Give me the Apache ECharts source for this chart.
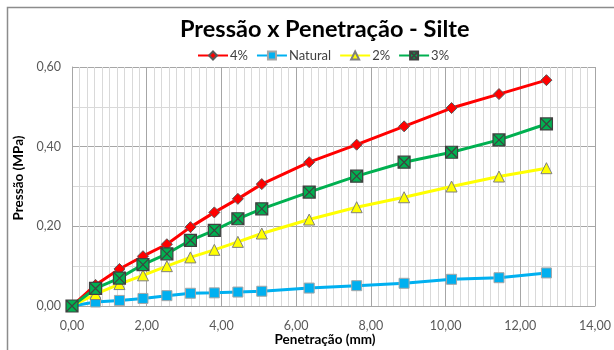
<!DOCTYPE html>
<html>
<head>
<meta charset="utf-8">
<script src="https://cdn.jsdelivr.net/npm/echarts@6/dist/echarts.min.js"></script>
<style>
html,body{margin:0;padding:0;background:#fff;}
#chart{width:614px;height:350px;}
</style>
</head>
<body>
<div id="chart"></div>
<script>
const penetration = [0, 0.63, 1.27, 1.90, 2.54, 3.17, 3.81, 4.44, 5.08, 6.35, 7.62, 8.89, 10.16, 11.43, 12.70];
const s4 = [0, 0.053, 0.093, 0.125, 0.155, 0.198, 0.235, 0.269, 0.306, 0.361, 0.405, 0.451, 0.497, 0.532, 0.567];
const sNatural = [0, 0.010, 0.014, 0.019, 0.026, 0.032, 0.033, 0.035, 0.037, 0.045, 0.051, 0.057, 0.067, 0.071, 0.083];
const s2 = [0, 0.030, 0.055, 0.077, 0.100, 0.122, 0.141, 0.161, 0.182, 0.217, 0.248, 0.273, 0.300, 0.325, 0.346];
const s3 = [0, 0.044, 0.070, 0.104, 0.131, 0.165, 0.190, 0.219, 0.244, 0.286, 0.326, 0.361, 0.386, 0.417, 0.457];
const seriesNames = ['4%', 'Natural', '2%', '3%'];
const titleText = 'Pressão x Penetração - Silte';
const xTitle = 'Penetração (mm)';
const yTitle = 'Pressão (MPa)';

const FONT = 'Lato';
const pairs = arr => penetration.map((x, i) => [x, arr[i]]);
const fmt = v => v.toFixed(2).replace('.', ',');

const chart = echarts.init(document.getElementById('chart'), null, {renderer: 'canvas'});
chart.setOption({
  animation: false,
  backgroundColor: '#ffffff',
  title: {
    text: titleText,
    left: 175,
    top: 12,
    textStyle: {fontFamily: FONT, fontWeight: 'bold', fontSize: 23.5, color: '#000000'}
  },
  legend: {
    left: 192,
    top: 44,
    itemWidth: 30,
    itemHeight: 10,
    itemGap: 8,
    data: seriesNames,
    textStyle: {fontFamily: FONT, fontSize: 13, color: '#404040', padding: [0, 0, 0, -3]}
  },
  grid: {left: 72, top: 67, width: 523, height: 239, containLabel: false, outerBoundsMode: 'none'},
  xAxis: {
    type: 'value', min: 0, max: 14, interval: 2,
    axisLine: {show: true, lineStyle: {color: '#a6a6a6', width: 1}},
    axisTick: {show: false},
    axisLabel: {formatter: fmt, fontFamily: FONT, fontSize: 12.5, color: '#595959', margin: 13},
    splitLine: {show: true, lineStyle: {color: '#a6a6a6', width: 1}},
    minorTick: {show: false, splitNumber: 10},
    minorSplitLine: {show: true, lineStyle: {color: '#d9d9d9', width: 1}}
  },
  yAxis: {
    type: 'value', min: 0, max: 0.6, interval: 0.2,
    axisLine: {show: true, lineStyle: {color: '#a6a6a6', width: 1}},
    axisTick: {show: false},
    axisLabel: {formatter: fmt, fontFamily: FONT, fontSize: 12.5, color: '#595959', margin: 11},
    splitLine: {show: true, lineStyle: {color: '#a6a6a6', width: 1}},
    minorTick: {show: false, splitNumber: 2},
    minorSplitLine: {show: true, lineStyle: {color: '#d9d9d9', width: 1}}
  },
  graphic: [
    {type: 'rect', shape: {x: 7.5, y: 7.5, width: 800, height: 500}, style: {fill: 'none', stroke: '#8c8c8c', lineWidth: 1.5}, silent: true},
    {type: 'text', x: 325, y: 340, style: {text: xTitle, font: 'bold 13.5px Lato', fill: '#000', align: 'center', verticalAlign: 'middle'}},
    {type: 'text', x: 18.5, y: 178, rotation: Math.PI / 2, style: {text: yTitle, font: 'bold 13.5px Lato', fill: '#000', align: 'center', verticalAlign: 'middle'}}
  ],
  series: [
    {
      name: seriesNames[0], type: 'line', data: pairs(s4),
      symbol: 'diamond', symbolSize: 11,
      lineStyle: {color: '#ff0000', width: 3},
      itemStyle: {color: '#ff0000', borderColor: '#595959', borderWidth: 1}
    },
    {
      name: seriesNames[1], type: 'line', data: pairs(sNatural),
      symbol: 'rect', symbolSize: 10,
      lineStyle: {color: '#00b0f0', width: 3},
      itemStyle: {color: '#00b0f0', borderColor: '#a6a6a6', borderWidth: 1}
    },
    {
      name: seriesNames[2], type: 'line', data: pairs(s2),
      symbol: 'triangle', symbolSize: 11,
      lineStyle: {color: '#ffff00', width: 3},
      itemStyle: {color: '#ffff00', borderColor: '#7f7f7f', borderWidth: 1}
    },
    {
      name: seriesNames[3], type: 'line', data: pairs(s3),
      symbol: 'path://M0,0H10V10H0Z M0,0L10,10 M10,0L0,10', symbolSize: 12,
      lineStyle: {color: '#00b050', width: 3},
      itemStyle: {color: '#00b050', borderColor: '#404040', borderWidth: 1.2}
    }
  ]
});
</script>
</body>
</html>
